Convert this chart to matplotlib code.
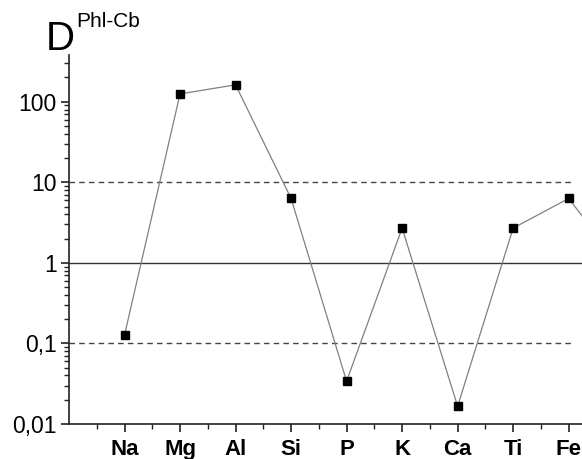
import matplotlib
matplotlib.use('Agg')
import matplotlib.pyplot as plt
from matplotlib.ticker import FixedLocator, LogLocator, NullFormatter

plt.rcParams['font.family'] = ['Liberation Sans', 'DejaVu Sans']

# элементы и значения (последняя точка обрезана краем рисунка)
elements = ['Na', 'Mg', 'Al', 'Si', 'P', 'K', 'Ca', 'Ti', 'Fe', 'Mn']
values = [0.127, 125, 162, 6.3, 0.034, 2.7, 0.0166, 2.7, 6.3, 0.8]
ytick_vals = [0.01, 0.1, 1, 10, 100]
ytick_labels = ['0,01', '0,1', '1', '10', '100']

fig = plt.figure(figsize=(5.82, 4.59), dpi=100)
ax = fig.add_axes([69 / 582, 35 / 459, 1 - 69 / 582, 369 / 459])

x = list(range(1, len(elements) + 1))
ax.plot(x, values, color='#808080', lw=0.9, zorder=3, clip_on=True)
ax.plot(x, values, ls='none', marker='s', ms=6, color='black', zorder=4)

# опорные линии
ax.hlines([0.1, 10], 0, 9.07, colors='#444444', linestyles=(0, (4, 3)), lw=1.0)
ax.axhline(1, color='#333333', lw=1.0)

ax.set_yscale('log')
ax.set_ylim(0.01, 380)
ax.set_xlim(0, 9.24)

ax.set_yticks(ytick_vals)
ax.set_yticklabels(ytick_labels, fontsize=16.5)
ax.yaxis.set_minor_locator(LogLocator(base=10, subs=range(2, 10)))
ax.yaxis.set_minor_formatter(NullFormatter())

ax.set_xticks(x[:9])
ax.set_xticklabels(elements[:9], fontsize=16, fontweight='bold')
ax.xaxis.set_minor_locator(FixedLocator([i + 0.5 for i in range(0, 9)]))

ax.tick_params(axis='both', which='major', direction='out', length=6, width=1.2, color='#222222')
ax.tick_params(axis='both', which='minor', direction='out', length=3.5, width=1.0, color='#222222')
ax.tick_params(axis='x', which='major', pad=5)
ax.tick_params(axis='y', which='major', pad=3)

for s in ['top', 'right']:
    ax.spines[s].set_visible(False)
for s in ['left', 'bottom']:
    ax.spines[s].set_linewidth(1.2)
    ax.spines[s].set_color('#222222')

fig.text(46 / 582, 1 - 50 / 459, 'D', fontsize=29, va='baseline', ha='left')
fig.text(76 / 582, 1 - 27 / 459, 'Phl-Cb', fontsize=15, va='baseline', ha='left')

fig.savefig('out.png', dpi=100)
